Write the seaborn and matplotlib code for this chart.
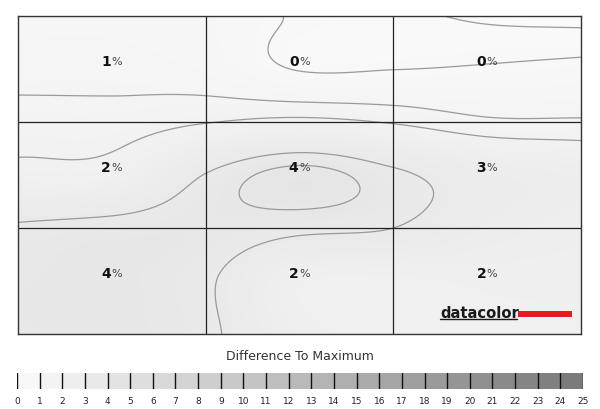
import numpy as np
import matplotlib
matplotlib.use("Agg")
import matplotlib.pyplot as plt
from matplotlib.patches import Rectangle
import seaborn as sns

# cell readings (%), rows top -> bottom
cell_values = [[1, 0, 0],
               [2, 4, 3],
               [4, 2, 2]]

# estimated deviation field (%) on a 7x7 lattice, x/y = 0, 0.5 ... 3 (y from top)
field_rows = [
    [0.90, 0.90, 0.80, 0.45, 0.32, 0.20, 0.15],
    [1.10, 1.10, 0.95, 0.47, 0.49, 0.55, 0.62],
    [1.45, 1.45, 1.72, 1.90, 1.70, 1.35, 1.32],
    [2.00, 2.10, 3.28, 3.97, 3.40, 2.80, 2.50],
    [3.35, 3.50, 3.60, 3.40, 3.25, 2.70, 2.40],
    [3.60, 3.65, 3.35, 2.20, 2.10, 2.20, 2.20],
    [3.60, 3.65, 3.40, 2.30, 2.10, 2.10, 2.10],
]
contour_levels = [0.25, 0.5, 1.25, 1.75, 3.25, 3.75]
scale_ticks = list(range(0, 26))


def catmull_rom(a, n, axis):
    a = np.moveaxis(np.asarray(a, dtype=float), axis, 0)
    m = a.shape[0]
    t = np.linspace(0, m - 1, n)
    i = np.clip(np.floor(t).astype(int), 0, m - 2)
    u = (t - i).reshape(-1, *[1] * (a.ndim - 1))
    p = np.concatenate([2 * a[:1] - a[1:2], a, 2 * a[-1:] - a[-2:-1]])
    p0, p1, p2, p3 = p[i], p[i + 1], p[i + 2], p[i + 3]
    out = 0.5 * (2 * p1 + (-p0 + p2) * u
                 + (2 * p0 - 5 * p1 + 4 * p2 - p3) * u ** 2
                 + (-p0 + 3 * p1 - 3 * p2 + p3) * u ** 3)
    return np.moveaxis(out, 0, axis)


sns.set_style("white")
plt.rcParams["font.family"] = ["DejaVu Sans"]

cmap = sns.blend_palette(["#fbfbfb", "#787878"], as_cmap=True)

fine = catmull_rom(catmull_rom(field_rows, 300, 0), 300, 1)
xs = np.linspace(0, 3, fine.shape[1])
ys = np.linspace(0, 3, fine.shape[0])

fig = plt.figure(figsize=(6, 4.1), dpi=100)
ax = fig.add_axes([18 / 600, 1 - 335 / 410, 563 / 600, 318 / 410])

ax.imshow(fine, cmap=cmap, vmin=0, vmax=25, extent=[0, 3, 3, 0],
          aspect="auto", interpolation="bilinear")
ax.contour(xs, ys, fine, levels=contour_levels, colors="#9a9a9a", linewidths=0.9)

for k in [1, 2]:
    ax.axvline(k, color="#222222", lw=0.9)
    ax.axhline(k, color="#222222", lw=0.9)

for r, row in enumerate(cell_values):
    for c, v in enumerate(row):
        ax.text(c + 0.495, r + 0.42, str(v), ha="right", va="center",
                fontsize=10, fontweight="bold", color="#111111")
        ax.text(c + 0.497, r + 0.425, "%", ha="left", va="center",
                fontsize=8, color="#444444")

ax.set_xlim(0, 3)
ax.set_ylim(3, 0)
ax.set_xticks([])
ax.set_yticks([])
for s in ax.spines.values():
    s.set_color("#333333")
    s.set_linewidth(1)

# datacolor badge
ax.text(0.7496, 0.053, "datacolor", transform=ax.transAxes, fontsize=10.6,
        fontweight="bold", color="#1a1a1a", ha="left", va="baseline")
ax.plot([0.7496, 0.886], [0.046, 0.046], transform=ax.transAxes, color="#1a1a1a", lw=1)
ax.add_patch(Rectangle((0.888, 0.055), 0.096, 0.017, transform=ax.transAxes,
                       color="#e41b23", lw=0))

# scale strip
cax = fig.add_axes([17 / 600, 1 - 390 / 410, 566 / 600, 16 / 410])
strip = np.array([[t + 0.5 for t in scale_ticks[:-1]]])
sns.heatmap(strip, ax=cax, cmap=cmap, vmin=0, vmax=25, cbar=False,
            xticklabels=False, yticklabels=False)
for t in scale_ticks:
    cax.axvline(t, color="#111111", lw=1)
cax.set_xlim(0, 25)
for t in scale_ticks:
    cax.text(t, 1.7, str(t), ha="center", va="center", fontsize=6.5, color="#222222")
fig.text(0.5, 1 - 357 / 410, "Difference To Maximum", ha="center", va="center",
         fontsize=9, color="#333333")

fig.savefig("out.png", dpi=100)
